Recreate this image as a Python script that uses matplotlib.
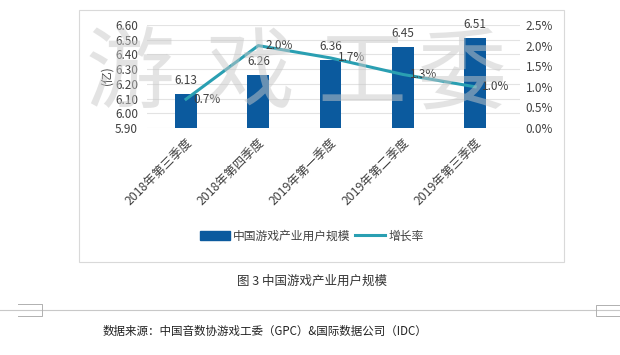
import matplotlib
matplotlib.use("Agg")
import matplotlib.pyplot as plt
from matplotlib.lines import Line2D
from matplotlib.patches import Rectangle
from matplotlib.ticker import FuncFormatter, MultipleLocator

plt.rcParams['font.family'] = ['Noto Sans CJK SC', 'DejaVu Sans']

categories = ["2018年第三季度", "2018年第四季度", "2019年第一季度", "2019年第二季度", "2019年第三季度"]
users = [6.13, 6.26, 6.36, 6.45, 6.51]
growth = [0.7, 2.0, 1.7, 1.3, 1.0]
bar_name = "中国游戏产业用户规模"
line_name = "增长率"
caption = "图 3 中国游戏产业用户规模"
source = "数据来源：中国音数协游戏工委（GPC）&国际数据公司（IDC）"
watermark = ["游", "戏", "工", "委"]

W, H = 620, 355
fig = plt.figure(figsize=(6.2, 3.55), dpi=100)

def fx(x): return x / W
def fy(y): return 1 - y / H

# chart frame
fig.patches.append(Rectangle((fx(79), fy(262)), fx(564) - fx(79), fy(10) - fy(262),
                             transform=fig.transFigure, fill=False, edgecolor='#d9d9d9', lw=0.8))

ax = fig.add_axes([fx(147), fy(128), fx(520) - fx(147), fy(25) - fy(128)])
bar_color = '#0b5a9e'
line_color = '#2a9fb2'
x = list(range(len(categories)))
ax.bar(x, users, width=0.3, color=bar_color, zorder=2, label=bar_name)
ax.set_ylim(5.90, 6.60)
ax.set_xlim(-0.54, len(categories) - 0.38)
ax.yaxis.set_major_locator(MultipleLocator(0.1))
ax.yaxis.set_major_formatter(FuncFormatter(lambda v, p: f"{v:.2f}"))
ax.grid(axis='y', color='#e3e3e3', lw=0.8, zorder=0)
for s in ax.spines.values():
    s.set_visible(False)
ax.tick_params(axis='y', length=0, labelsize=8.5, colors='#404040', pad=6.5)
ax.tick_params(axis='x', length=0, labelsize=8.8, colors='#404040', pad=6)
ax.set_xticks(x)
ax.set_xticklabels(categories, rotation=45, ha='right', rotation_mode='anchor')
for xi, v in zip(x, users):
    ax.annotate(f"{v:.2f}", (xi, v), xytext=(0, 5), textcoords='offset points',
                ha='center', va='bottom', fontsize=8.5, color='#404040', zorder=5)

ax2 = ax.twinx()
ax2.set_ylim(0, 2.5)
ax2.yaxis.set_major_locator(MultipleLocator(0.5))
ax2.yaxis.set_major_formatter(FuncFormatter(lambda v, p: f"{v:.1f}%"))
for s in ax2.spines.values():
    s.set_visible(False)
ax2.tick_params(axis='y', length=0, labelsize=8.5, colors='#404040', pad=4)
ax2.plot(x, growth, color=line_color, lw=2.2, zorder=3, label=line_name)
for xi, v in zip(x, growth):
    ax2.annotate(f"{v:.1f}%", (xi, v), xytext=(5, 0), textcoords='offset points',
                 ha='left', va='center', fontsize=8.5, color='#404040', zorder=5)

fig.text(fx(107), fy(75), "(亿)", rotation=90, ha='center', va='center', fontsize=8.5, color='#404040')

# watermark
for ch, px in zip(watermark, [130, 250, 362, 462]):
    fig.text(fx(px), fy(76), ch, ha='center', va='center', fontsize=64, fontweight='light',
             color='#c8c8c8', alpha=0.5, zorder=10)

# legend
h1 = Rectangle((0, 0), 1, 1, color=bar_color)
h2 = Line2D([0], [0], color=line_color, lw=2.2)
fig.legend([h1, h2], [bar_name, line_name], loc='center', bbox_to_anchor=(fx(312), fy(236)),
           ncol=2, frameon=False, fontsize=8.5, handlelength=2.5, handletextpad=0.3,
           columnspacing=0.4, labelcolor='#404040')

fig.text(fx(312), fy(281), caption, ha='center', va='center', fontsize=9, color='#333333')

# separator line with brackets
fig.add_artist(Line2D([0, 1], [fy(310), fy(310)], transform=fig.transFigure, color='#c8c8c8', lw=0.8))
fig.add_artist(Line2D([fx(18), fx(42), fx(42), fx(18)], [fy(304), fy(304), fy(316), fy(316)],
                      transform=fig.transFigure, color='#b0b0b0', lw=0.7))
fig.add_artist(Line2D([fx(620), fx(596), fx(596), fx(620)], [fy(305), fy(305), fy(316), fy(316)],
                      transform=fig.transFigure, color='#b0b0b0', lw=0.7))

fig.text(fx(265), fy(331), source, ha='center', va='center', fontsize=8.3, color='#222222')

fig.savefig("out.png", dpi=100)
